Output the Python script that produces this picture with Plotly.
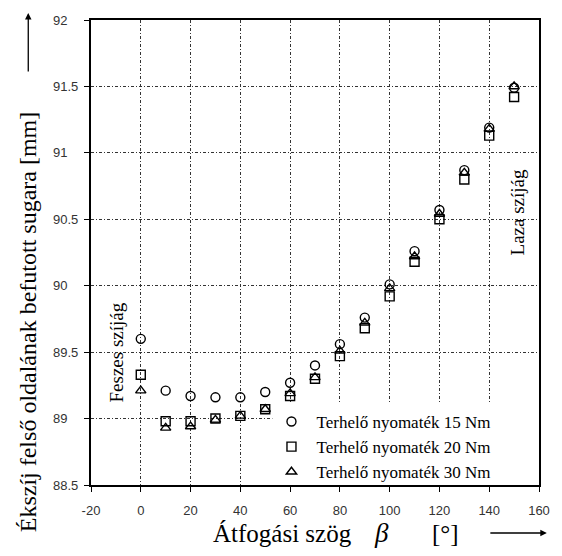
import plotly.graph_objects as go

# Wrap angle (degrees) and measured running radius (mm) for three load torques
beta = [0, 10, 20, 30, 40, 50, 60, 70, 80, 90, 100, 110, 120, 130, 140, 150]
r_15nm = [89.60, 89.21, 89.17, 89.16, 89.16, 89.20, 89.27, 89.40, 89.56, 89.76,
          90.01, 90.26, 90.57, 90.87, 91.19, 91.49]
r_20nm = [89.33, 88.98, 88.98, 89.00, 89.02, 89.07, 89.17, 89.30, 89.47, 89.68,
          89.92, 90.18, 90.50, 90.80, 91.13, 91.42]
r_30nm = [89.21, 88.93, 88.94, 88.99, 89.02, 89.07, 89.19, 89.31, 89.51, 89.72,
          89.98, 90.22, 90.54, 90.85, 91.18, 91.50]

series_names = ["Terhelő nyomaték 15 Nm", "Terhelő nyomaték 20 Nm", "Terhelő nyomaték 30 Nm"]
symbols = ["circle-open", "square-open", "triangle-up-open"]

x_range = [-20, 160]
y_range = [88.5, 92]
x_ticks = [-20, 0, 20, 40, 60, 80, 100, 120, 140, 160]
y_ticks = [88.5, 89, 89.5, 90, 90.5, 91, 91.5, 92]
y_tick_labels = ["88.5", "89", "89.5", "90", "90.5", "91", "91.5", "92"]

W, H = 562, 556
ML, MR, MT, MB = 91, 14, 20, 71
PW, PH = W - ML - MR, H - MT - MB

def px_x(px):
    return (px - ML) / PW

def px_y(py):
    return (H - MB - py) / PH

def axis_x(px):
    return x_range[0] + (x_range[1] - x_range[0]) * px_x(px)

def axis_y(py):
    return y_range[0] + (y_range[1] - y_range[0]) * px_y(py)

SERIF = "Liberation Serif, Times New Roman, serif"
SANS = "Liberation Sans, Arial, sans-serif"

fig = go.Figure()
for name, sym, vals in zip(series_names, symbols, [r_15nm, r_20nm, r_30nm]):
    fig.add_trace(go.Scatter(
        x=beta, y=vals, mode="markers", name=name,
        marker=dict(symbol=sym, size=9, color="black", line=dict(width=1.4, color="black")),
    ))

# fine dash-dot grid
grid_style = dict(showgrid=True, gridcolor="#333333", gridwidth=1, griddash="3,2,1,2")
fig.update_xaxes(
    range=x_range, tickvals=x_ticks, ticktext=[str(v) for v in x_ticks],
    zeroline=False, showline=True, linecolor="black", linewidth=2, mirror=True,
    ticks="outside", ticklen=5, tickwidth=1.2, tickcolor="black", ticklabelstandoff=7,
    tickfont=dict(family=SANS, size=13, color="#333"),
    **grid_style,
)
fig.update_yaxes(
    range=y_range, tickvals=y_ticks, showticklabels=False,
    zeroline=False, showline=True, linecolor="black", linewidth=2, mirror=True,
    ticks="outside", ticklen=5, tickwidth=1.2, tickcolor="black",
    **grid_style,
)

annotations = []
# y tick labels, left aligned
for v, t in zip(y_ticks, y_tick_labels):
    annotations.append(dict(
        x=px_x(50), xref="paper", y=v, yref="y", text=t, showarrow=False,
        xanchor="left", yanchor="middle", font=dict(family=SANS, size=13, color="#333"),
    ))

def label(px, py, text, size, angle=0, anchor="center"):
    return dict(x=px_x(px), y=px_y(py), xref="paper", yref="paper", text=text,
                textangle=angle, showarrow=False, xanchor=anchor, yanchor="middle",
                font=dict(family=SERIF, size=size, color="black"))

annotations += [
    # axis titles
    label(27, 322, "Ékszíj felső oldalának befutott sugara [mm]", 24, angle=-90),
    label(213, 533, "Átfogási szög", 25, anchor="left"),
    label(387, 533, "<i>β</i>", 27),
    label(453, 533, "[°]", 25),
    # belt side labels
    label(117, 352, "Feszes szíjág", 19, angle=-90),
    label(526, 212, "Laza szíjág", 19, angle=-90),
    # arrows next to the axis titles
    dict(x=px_x(27), y=px_y(13), xref="paper", yref="paper", ax=0, ay=60,
         text="", showarrow=True, arrowhead=2, arrowsize=1, arrowwidth=1.3,
         arrowcolor="black"),
    dict(x=px_x(556), y=px_y(533), xref="paper", yref="paper", ax=-58, ay=0,
         text="", showarrow=True, arrowhead=2, arrowsize=1, arrowwidth=1.3,
         arrowcolor="black"),
]

# white patch hiding the grid behind the legend (drawn under the markers)
legend_patch = dict(
    type="rect", xref="x", yref="y", layer="between",
    x0=axis_x(276), x1=x_range[1], y0=y_range[0], y1=axis_y(404),
    fillcolor="white", line=dict(width=0),
)

fig.update_layout(
    width=W, height=H,
    margin=dict(l=ML, r=MR, t=MT, b=MB, pad=0),
    paper_bgcolor="white", plot_bgcolor="white",
    showlegend=True,
    legend=dict(
        x=px_x(270), y=px_y(404), xanchor="left", yanchor="top",
        bgcolor="rgba(0,0,0,0)", borderwidth=0, itemwidth=40,
        font=dict(family=SERIF, size=17, color="black"),
        itemsizing="trace", tracegroupgap=0,
    ),
    shapes=[legend_patch],
    annotations=annotations,
)

fig.write_html("out.html")
